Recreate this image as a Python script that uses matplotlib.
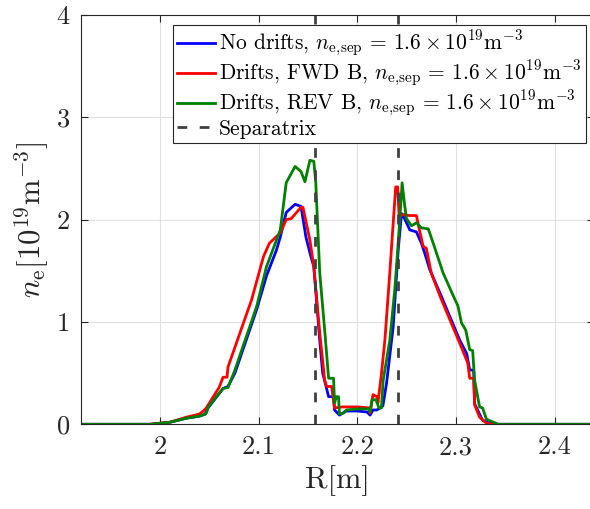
import matplotlib
matplotlib.use("Agg")
import matplotlib.pyplot as plt

plt.rcParams['font.family'] = 'serif'
plt.rcParams['font.serif'] = ['cmr10', 'DejaVu Serif']
plt.rcParams['mathtext.fontset'] = 'cm'
plt.rcParams['axes.unicode_minus'] = False

# ---- data ----
r_blue = [1.92, 1.99, 2.01, 2.027, 2.040, 2.046, 2.048, 2.064, 2.069, 2.076, 2.098, 2.108,
          2.118, 2.122, 2.128, 2.137, 2.143, 2.148, 2.153, 2.156, 2.162, 2.165, 2.171, 2.176,
          2.177, 2.182, 2.189, 2.200, 2.210, 2.213, 2.216, 2.220, 2.226, 2.2297, 2.2364,
          2.2415, 2.2449, 2.248, 2.2533, 2.260, 2.265, 2.2685, 2.2736, 2.284, 2.294, 2.304,
          2.311, 2.314, 2.318, 2.319, 2.327, 2.337, 2.36, 2.44]
ne_blue = [0, 0, 0.02, 0.06, 0.08, 0.10, 0.15, 0.35, 0.37, 0.50, 1.12, 1.45,
           1.70, 1.83, 2.07, 2.15, 2.13, 1.83, 1.64, 1.54, 0.82, 0.50, 0.27, 0.27,
           0.14, 0.09, 0.13, 0.13, 0.12, 0.09, 0.14, 0.14, 0.18, 0.40, 0.95,
           1.70, 2.06, 2.01, 1.90, 1.88, 1.77, 1.67, 1.51, 1.28, 1.05, 0.82,
           0.69, 0.53, 0.53, 0.20, 0.04, 0.0, 0, 0]

r_red = [1.92, 1.99, 2.01, 2.027, 2.040, 2.044, 2.047, 2.060, 2.064, 2.068, 2.069, 2.093,
         2.105, 2.111, 2.122, 2.128, 2.133, 2.143, 2.145, 2.152, 2.156, 2.162, 2.167, 2.169,
         2.174, 2.177, 2.185, 2.200, 2.212, 2.213, 2.216, 2.220, 2.221, 2.2246, 2.228,
         2.233, 2.2364, 2.239, 2.241, 2.2425, 2.2465, 2.253, 2.260, 2.263, 2.2668, 2.270,
         2.275, 2.284, 2.294, 2.304, 2.312, 2.314, 2.318, 2.319, 2.324, 2.331, 2.337, 2.36, 2.44]
ne_red = [0, 0, 0.02, 0.07, 0.10, 0.13, 0.16, 0.36, 0.46, 0.46, 0.56, 1.22,
          1.64, 1.77, 1.87, 2.00, 2.01, 2.12, 2.12, 1.80, 1.54, 0.89, 0.43, 0.37,
          0.37, 0.16, 0.17, 0.17, 0.16, 0.11, 0.29, 0.27, 0.21, 0.50, 0.82,
          1.48, 1.96, 2.32, 2.32, 2.03, 2.05, 2.04, 2.04, 1.90, 1.74, 1.72,
          1.48, 1.25, 1.02, 0.79, 0.60, 0.45, 0.45, 0.19, 0.07, 0.01, 0, 0, 0]

r_green = [1.92, 1.99, 2.01, 2.027, 2.040, 2.046, 2.047, 2.049, 2.064, 2.069, 2.076, 2.098,
           2.108, 2.122, 2.128, 2.137, 2.143, 2.147, 2.152, 2.156, 2.158, 2.162, 2.167, 2.171,
           2.176, 2.177, 2.179, 2.181, 2.182, 2.186, 2.189, 2.200, 2.212, 2.213, 2.215,
           2.219, 2.222, 2.2245, 2.2263, 2.233, 2.238, 2.241, 2.244, 2.2455, 2.2482, 2.2499,
           2.255, 2.260, 2.265, 2.272, 2.277, 2.287, 2.299, 2.302, 2.3057, 2.310, 2.314,
           2.317, 2.319, 2.324, 2.327, 2.331, 2.343, 2.36, 2.44]
ne_green = [0, 0, 0.02, 0.06, 0.08, 0.10, 0.11, 0.17, 0.35, 0.36, 0.53, 1.15,
            1.54, 1.90, 2.36, 2.52, 2.47, 2.37, 2.58, 2.57, 2.36, 1.48, 0.92, 0.45,
            0.45, 0.21, 0.27, 0.27, 0.10, 0.11, 0.14, 0.15, 0.15, 0.12, 0.24,
            0.24, 0.16, 0.16, 0.43, 0.82, 1.31, 1.70, 2.13, 2.36, 2.13, 2.01,
            1.94, 1.97, 1.92, 1.91, 1.77, 1.48, 1.22, 1.16, 0.99, 0.92, 0.73,
            0.72, 0.43, 0.17, 0.16, 0.05, 0, 0, 0]

separatrix = [2.157, 2.2414]

labels = [r"No drifts, $n_{\mathrm{e,\!sep}}\,=\,1.6 \times 10^{19}\mathrm{m}^{-3}$",
          r"Drifts, FWD B, $n_{\mathrm{e,\!sep}}\,=\,1.6 \times 10^{19}\mathrm{m}^{-3}$",
          r"Drifts, REV B, $n_{\mathrm{e,\!sep}}\,=\,1.6 \times 10^{19}\mathrm{m}^{-3}$",
          "Separatrix"]
xticks = [2.0, 2.1, 2.2, 2.3, 2.4]
xticklabels = ["2", "2.1", "2.2", "2.3", "2.4"]
yticks = [0, 1, 2, 3, 4]
yticklabels = ["0", "1", "2", "3", "4"]

# ---- figure ----
fig = plt.figure(figsize=(5.9, 5.09), dpi=100)
ax = fig.add_axes([81/590, (509-424.3)/509, (594-81)/590, (424.3-15)/509])

lw = 2.0
h1, = ax.plot(r_blue, ne_blue, color=(0, 0, 1), lw=lw, label=labels[0])
h2, = ax.plot(r_red, ne_red, color=(1, 0, 0), lw=lw, label=labels[1])
h3, = ax.plot(r_green, ne_green, color=(0, 0.5, 0), lw=lw, label=labels[2])
h4 = None
for i, s in enumerate(separatrix):
    h = ax.axvline(s, color=(0.25, 0.25, 0.25), lw=2.0, ls=(0, (3.5, 4.5)),
                   label=labels[3] if i == 0 else None)
    if i == 0:
        h4 = h

ax.set_xlim(1.92, 2.44)
ax.set_ylim(0, 4)
ax.set_xticks(xticks)
ax.set_xticklabels(xticklabels)
ax.set_yticks(yticks)
ax.set_yticklabels(yticklabels)
ax.tick_params(direction='in', length=5, width=0.8, top=True, right=True,
               labelsize=19, colors=(0.15, 0.15, 0.15), pad=8)
ax.grid(True, color=(0.88, 0.88, 0.88), lw=0.8)
ax.set_axisbelow(True)
for sp in ax.spines.values():
    sp.set_color((0.15, 0.15, 0.15))
    sp.set_linewidth(0.8)

ax.set_xlabel("R[m]", fontsize=22, color=(0.15, 0.15, 0.15), labelpad=4)
ax.set_ylabel(r"$n_{\mathrm{e}}[10^{19}\mathrm{m}^{-3}]$", fontsize=22,
              color=(0.15, 0.15, 0.15), labelpad=4)

leg = ax.legend(handles=[h1, h2, h3, h4], loc='upper right',
                bbox_to_anchor=(586/590, (509-25)/509), bbox_transform=fig.transFigure,
                borderaxespad=0, fontsize=15.5, fancybox=False, framealpha=1,
                edgecolor=(0.15, 0.15, 0.15), handlelength=1.75, handletextpad=0.2,
                labelspacing=0.0, borderpad=0.2)
leg.get_frame().set_linewidth(0.8)

fig.savefig("out.png", dpi=100)
